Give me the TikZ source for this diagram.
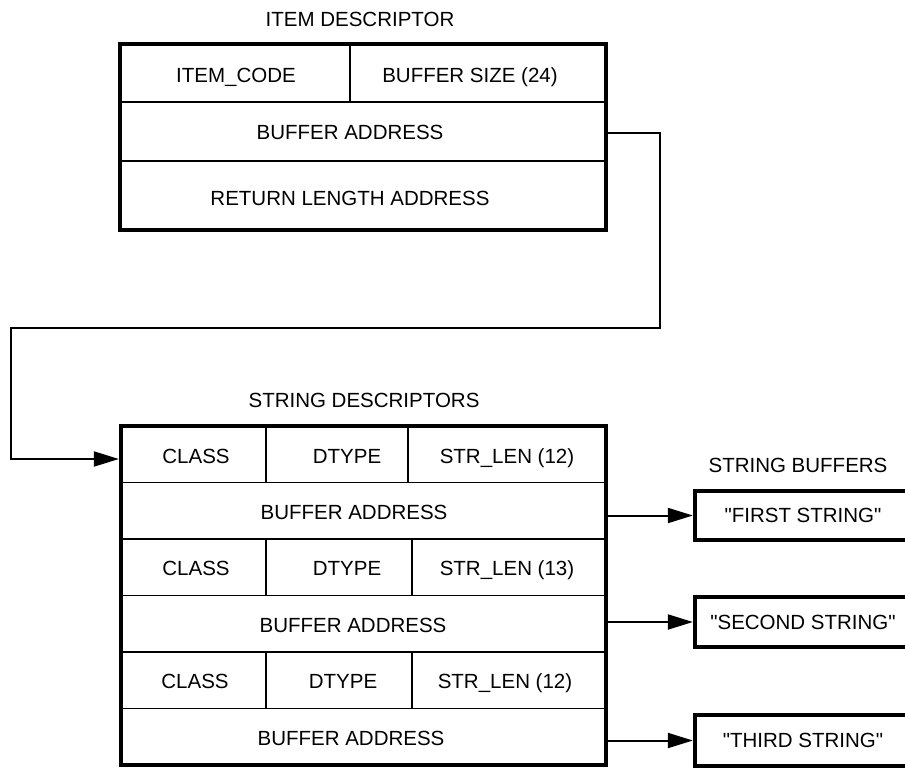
\documentclass[tikz,border=0pt]{standalone}
\usepackage{fontspec}
\setmainfont{Liberation Sans}
\usetikzlibrary{arrows.meta}
\newcommand{\sq}{\XeTeXglyph\XeTeXcharglyph"22\relax}
\begin{document}
\begin{tikzpicture}[x=1pt,y=-1pt,
  lbl/.style={inner sep=0pt,text height=14.7pt,text depth=0pt,font=\fontsize{20.5}{24}\selectfont},
  frame/.style={draw,line width=4.3pt,inner sep=0pt},
  buf/.style={frame,minimum width=216pt,text height=14.7pt,text depth=0pt,font=\fontsize{20.5}{24}\selectfont},
  thin/.style={line width=1.7pt},
  conn/.style={line width=2pt},
  tip/.style={-{Triangle[length=25pt,width=15pt]}}]
\useasboundingbox (0,0) rectangle (905,768);
\clip (0,0) rectangle (905,768);

% dividers (thin lines inside the frames)
\draw[thin] (120,102) -- (606,102) (120,161) -- (606,161) (350,44) -- (350,102);
\draw[thin] (121,482.5) -- (606,482.5) (121,539) -- (606,539) (121,595.5) -- (606,595.5)
            (121,652) -- (606,652) (121,708.5) -- (606,708.5);
\draw[thin] (266,426) -- (266,482.5) (408,426) -- (408,482.5)
            (266,539) -- (266,595.5) (412,539) -- (412,595.5)
            (266,652) -- (266,708.5) (412,652) -- (412,708.5);

% frames
\node[frame,minimum width=486pt,minimum height=186pt] (id) at (363,137) {};
\node[frame,minimum width=485pt,minimum height=339pt] (sd) at (363.5,595.5) {};

% item descriptor texts
\node[lbl] (t1) at (360,19.5) {ITEM DESCRIPTOR};
\node[lbl] (ic) at (236,75) {ITEM\_CODE};
\node[lbl] (bs) at (470,75) {BUFFER SIZE (24)};
\node[lbl] (ba) at (350,132) {BUFFER ADDRESS};
\node[lbl] (rla) at (350,198) {RETURN LENGTH ADDRESS};

% string descriptor texts
\node[lbl] (t2) at (364,400) {STRING DESCRIPTORS};
\node[lbl] (c1) at (196,456) {CLASS};
\node[lbl] (d1) at (347,456) {DTYPE};
\node[lbl] (s1) at (507,456) {STR\_LEN (12)};
\node[lbl] (a1) at (354,512) {BUFFER ADDRESS};
\node[lbl] (c2) at (196,568) {CLASS};
\node[lbl] (d2) at (347,568) {DTYPE};
\node[lbl] (s2) at (507,568) {STR\_LEN (13)};
\node[lbl] (a2) at (353,625) {BUFFER ADDRESS};
\node[lbl] (c3) at (195,681) {CLASS};
\node[lbl] (d3) at (343,681) {DTYPE};
\node[lbl] (s3) at (505,681) {STR\_LEN (12)};
\node[lbl] (a3) at (351,738) {BUFFER ADDRESS};

% string buffers
\node[lbl] (t3) at (798,465.5) {STRING BUFFERS};
\node[buf,minimum height=49pt] (b1) at (803,515.5) {\sq FIRST STRING\sq};
\node[buf,minimum height=50pt] (b2) at (803,622) {\sq SECOND STRING\sq};
\node[buf,minimum height=51pt] (b3) at (803,740.5) {\sq THIRD STRING\sq};

% connector from item descriptor to string descriptors
\coordinate (k0) at (660,133);
\coordinate (k1) at (660,328);
\coordinate (k2) at (11,328);
\coordinate (k3) at (11,459);
\draw[conn,tip] (id.east |- k0) -- (k0) -- (k1) -- (k2) -- (k3) -- (k3 -| sd.west);

% arrows to buffers
\draw[conn,tip] (sd.east |- b1.west) -- (b1.west);
\draw[conn,tip] (sd.east |- b2.west) -- (b2.west);
\draw[conn,tip] (sd.east |- b3.west) -- (b3.west);
\end{tikzpicture}
\end{document}
